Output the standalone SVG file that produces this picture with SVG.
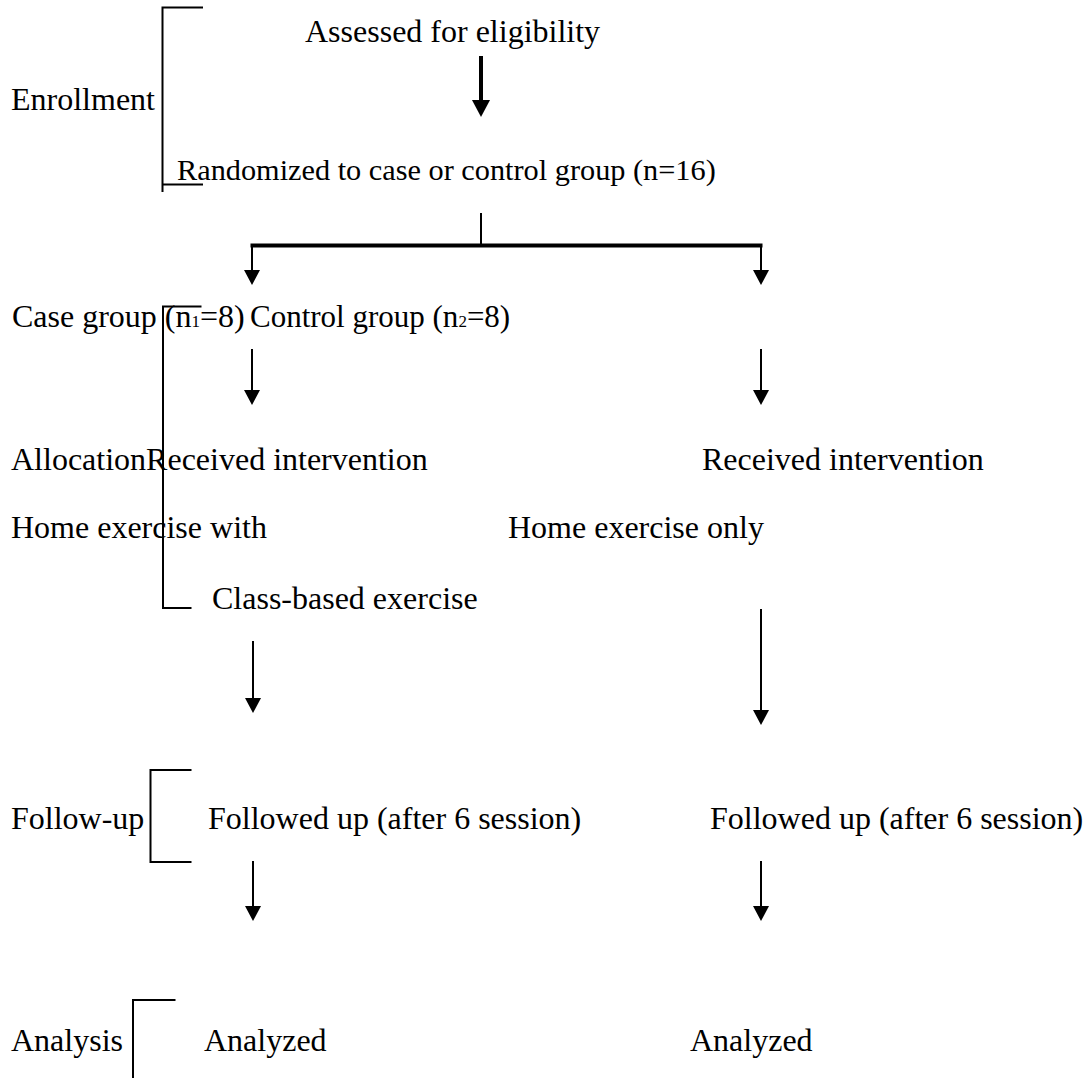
<svg xmlns="http://www.w3.org/2000/svg" xmlns:xlink="http://www.w3.org/1999/xlink" width="1089" height="1078" viewBox="0 0 1089 1078">
<style>
.ln{stroke:#000;stroke-width:2;fill:none}
.thick{stroke:#000;stroke-width:4;fill:none}
.br{stroke:#000;stroke-width:2;fill:none}
</style>
<defs>
<path id="ah" d="M-8,-15 L8,-15 L0,0 Z" fill="#000"/>
<path id="ahb" d="M-9,-17 L9,-17 L0,0 Z" fill="#000"/>
</defs>
<rect width="1089" height="1078" fill="#fff"/>

<g id="brackets">
<path class="br" d="M203,7.5 H162.5 V192 M162.5,184.5 H203"/>
<path class="br" d="M201.5,306.5 H163 V608 H191.5"/>
<path class="br" d="M191.5,770 H150.5 V862 H191.5"/>
<path class="br" d="M175.5,1000 H133 V1078"/>
</g>

<g id="connectors">
<line class="thick" x1="481" y1="56" x2="481" y2="101"/>
<use xlink:href="#ahb" x="481" y="117"/>
<line class="ln" x1="481" y1="213" x2="481" y2="245"/>
<line class="thick" x1="250.5" y1="245.5" x2="762.5" y2="245.5"/>
<line class="ln" x1="252" y1="245" x2="252" y2="271"/>
<use xlink:href="#ah" x="252" y="285"/>
<line class="ln" x1="761" y1="245" x2="761" y2="271"/>
<use xlink:href="#ah" x="761" y="285"/>
<line class="ln" x1="252" y1="349" x2="252" y2="391"/>
<use xlink:href="#ah" x="252" y="405"/>
<line class="ln" x1="761" y1="349" x2="761" y2="391"/>
<use xlink:href="#ah" x="761" y="405"/>
<line class="ln" x1="253" y1="641" x2="253" y2="699"/>
<use xlink:href="#ah" x="253" y="713"/>
<line class="ln" x1="761" y1="609" x2="761" y2="711"/>
<use xlink:href="#ah" x="761" y="725"/>
<line class="ln" x1="253" y1="861" x2="253" y2="907"/>
<use xlink:href="#ah" x="253" y="921"/>
<line class="ln" x1="761" y1="861" x2="761" y2="907"/>
<use xlink:href="#ah" x="761" y="921"/>
</g>

<g font-family="'Liberation Serif', 'Times New Roman', serif" font-size="32" fill="#000">
<g id="labels">
<text x="11" y="110">Enrollment</text>
<text x="11" y="829">Follow-up</text>
<text x="11" y="1051">Analysis</text>
</g>
<g id="node-assessed"><text x="305" y="42">Assessed for eligibility</text></g>
<g id="node-randomized"><text x="177" y="180" font-size="30.3">Randomized to case or control group (n=16)</text></g>
<g id="node-case"><text x="12" y="327">Case group (n<tspan font-size="17">1</tspan>=8)</text></g>
<g id="node-control"><text x="250" y="327" font-size="31">Control group (n<tspan font-size="17">2</tspan>=8)</text></g>
<g id="node-received-case"><text x="11" y="470">AllocationReceived intervention</text></g>
<g id="node-received-control"><text x="702" y="470">Received intervention</text></g>
<g id="node-home-with"><text x="11" y="538">Home exercise with</text></g>
<g id="node-home-only"><text x="508" y="538">Home exercise only</text></g>
<g id="node-class"><text x="212" y="609">Class-based exercise</text></g>
<g id="node-followed-case"><text x="208" y="829">Followed up (after 6 session)</text></g>
<g id="node-followed-control"><text x="710" y="829">Followed up (after 6 session)</text></g>
<g id="node-analyzed-case"><text x="204" y="1051">Analyzed</text></g>
<g id="node-analyzed-control"><text x="690" y="1051">Analyzed</text></g>
</g>
</svg>
